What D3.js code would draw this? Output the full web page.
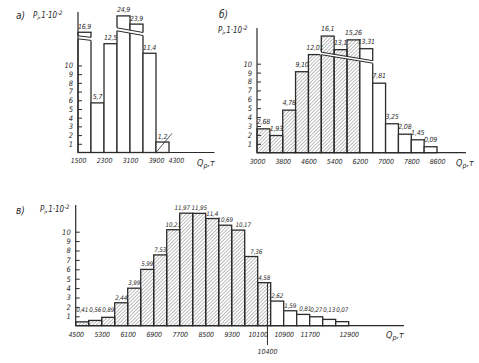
<!DOCTYPE html>
<html>
<head>
<meta charset="utf-8">
<script src="https://cdn.jsdelivr.net/npm/d3@7"></script>
<style>
  body { margin: 0; background: #fff; }
  svg text { font-family: "Liberation Sans Narrow", "DejaVu Sans Condensed", sans-serif; font-style: italic; fill: #2a2a2a; }
</style>
</head>
<body>
<script>
// а) left bin edges, step 400 t
const binsA = [1500, 1900, 2300, 2700, 3100, 3500, 3900];
const labelsA = ["16,9", "5,7", "12,5", "24,9", "23,9", "11,4", "1,2"];
const valuesA = [16.9, 5.7, 12.5, 24.9, 23.9, 11.4, 1.2];
const ticksA = [1500, 2300, 3100, 3900, 4300];

// б)
const binsB = [3000, 3400, 3800, 4200, 4600, 5000, 5400, 5800, 6200, 6600, 7000, 7400, 7800, 8200];
const labelsB = ["2,68", "1,93", "4,78", "9,10", "12,01", "16,1", "13,1", "15,26", "13,31", "7,81", "3,25", "2,08", "1,45", "0,09"];
const valuesB = [2.68, 1.93, 4.78, 9.10, 12.01, 16.1, 13.1, 15.26, 13.31, 7.81, 3.25, 2.08, 1.45, 0.67];
const ticksB = [3000, 3800, 4600, 5400, 6200, 7000, 7800, 8600];

// в)
const binsC = [4500, 4900, 5300, 5700, 6100, 6500, 6900, 7300, 7700, 8100, 8500, 8900, 9300, 9700, 10100, 10500, 10900, 11300, 11700, 12100, 12500];
const labelsC = ["0,41", "0,56", "0,89", "2,44", "3,99", "5,99", "7,53", "10,21", "11,97", "11,95", "11,4", "10,69", "10,17", "7,36", "4,58", "2,62", "1,59", "0,81", "0,27", "0,13", "0,07"];
const valuesC = [0.41, 0.56, 0.89, 2.44, 3.99, 5.99, 7.53, 10.21, 11.97, 11.95, 11.4, 10.69, 10.17, 7.36, 4.58, 2.62, 1.59, 1.2, 0.95, 0.67, 0.43];
const ticksC = [4500, 5300, 6100, 6900, 7700, 8500, 9300, 10100, 10900, 11700, 12900];
const markC = 10400;

const yTicks = [1, 2, 3, 4, 5, 6, 7, 8, 9, 10];
const step = 400;
const ink = "#2b2b2b";

const svg = d3.select("body").append("svg")
  .attr("width", 479).attr("height", 363);

svg.append("defs").append("pattern")
  .attr("id", "hatch")
  .attr("patternUnits", "userSpaceOnUse")
  .attr("width", 2.5).attr("height", 2.5)
  .attr("patternTransform", "rotate(45)")
  .append("line")
  .attr("x1", 0).attr("y1", 0).attr("x2", 0).attr("y2", 2.5)
  .attr("stroke", "#4a4a4a").attr("stroke-width", 0.7);

function drawPanel(p) {
  const g = svg.append("g");
  const x = d3.scaleLinear().domain(p.xDomain).range(p.xRange);
  const y = d3.scaleLinear().domain(p.yDomain).range(p.yRange);
  const base = y(0);
  const shift = p.labelShift || {};

  const bars = p.bins.map((b, i) => ({ b, i, v: p.values[i], label: p.labels[i] }));

  g.append("g").selectAll("rect")
    .data(bars)
    .join("rect")
    .attr("x", d => x(d.b))
    .attr("y", d => y(d.v))
    .attr("width", d => x(d.b + step) - x(d.b))
    .attr("height", d => base - y(d.v))
    .attr("fill", d => d.b < p.hatchBelow ? "url(#hatch)" : "#fff")
    .attr("stroke", ink)
    .attr("stroke-width", 1.3);

  // broken-scale marks
  (p.breaks || []).forEach(br => {
    const xa = x(p.bins[br.from]) - 1.5;
    const xb = x(p.bins[br.to] + step) + 1.5;
    const ya = y(br.at);
    const yb = ya + (xb - xa) * br.slope;
    const w = br.width;
    g.append("path")
      .attr("d", `M${xa},${ya}L${xb},${yb}L${xb},${yb + w}L${xa},${ya + w}Z`)
      .attr("fill", "#fff");
    [0, w].forEach(off => {
      g.append("line")
        .attr("x1", xa + 1.5).attr("y1", ya + off + 1.5 * br.slope)
        .attr("x2", xb - 1.5).attr("y2", yb + off - 1.5 * br.slope)
        .attr("stroke", ink).attr("stroke-width", 1);
    });
  });

  g.append("g").selectAll("text")
    .data(bars)
    .join("text")
    .attr("x", d => (x(d.b) + x(d.b + step)) / 2 + (shift[d.i] || 0))
    .attr("y", d => Math.min(y(d.v) - p.labelGap, p.labelFloor ? y(p.labelFloor) : Infinity))
    .attr("text-anchor", "middle")
    .style("font-size", p.labelSize || "7px")
    .style("letter-spacing", "-0.2px")
    .text(d => d.label);

  // axes
  g.append("line")
    .attr("x1", x(p.xDomain[0])).attr("x2", x(p.axisEnd))
    .attr("y1", base).attr("y2", base)
    .attr("stroke", ink).attr("stroke-width", 1.2);
  g.append("line")
    .attr("x1", x(p.xDomain[0])).attr("x2", x(p.xDomain[0]))
    .attr("y1", base).attr("y2", p.yTop)
    .attr("stroke", ink).attr("stroke-width", 1.2);

  const ya = g.append("g")
    .attr("transform", `translate(${x(p.xDomain[0])},0)`)
    .call(d3.axisLeft(y).tickValues(yTicks).tickSize(-4).tickPadding(5).tickFormat(d3.format("d")));
  ya.select(".domain").remove();
  ya.selectAll("line").attr("stroke", ink);
  ya.selectAll("text").style("font-size", "7.5px").attr("fill", ink);

  const xa = g.append("g")
    .attr("transform", `translate(0,${base})`)
    .call(d3.axisBottom(x).tickValues(p.ticks).tickSize(0).tickPadding(6).tickFormat(d3.format("d")));
  xa.select(".domain").remove();
  xa.selectAll("text").style("font-size", "7px").style("letter-spacing", "-0.1px").attr("fill", ink);
  if (p.lastTickStart) {
    xa.selectAll(".tick").filter((d, i, n) => i === n.length - 1)
      .select("text").attr("text-anchor", "start").attr("x", -1);
  }

  const q = g.append("text")
    .attr("x", p.qPos[0]).attr("y", p.qPos[1])
    .style("font-size", "9px");
  q.append("tspan").text("Q");
  q.append("tspan").attr("dy", 2).style("font-size", "7px").text("р");
  q.append("tspan").attr("dy", -2).text(",т");

  const pl = g.append("text")
    .attr("x", p.pPos[0]).attr("y", p.pPos[1])
    .style("font-size", "8px");
  pl.append("tspan").text("P");
  pl.append("tspan").attr("dy", 2).style("font-size", "6px").text("i");
  pl.append("tspan").attr("dy", -2).text(",1·10");
  pl.append("tspan").attr("dy", -3).style("font-size", "6px").text("-2");

  g.append("text")
    .attr("x", p.headPos[0]).attr("y", p.headPos[1])
    .style("font-size", "10px")
    .text(p.head);

  return { g, x, y };
}

const a = drawPanel({
  bins: binsA, values: valuesA, labels: labelsA, ticks: ticksA,
  xDomain: [1500, 4300], xRange: [78, 169], axisEnd: 5700,
  yDomain: [0, 12.5, 17, 24, 25], yRange: [152.5, 43.7, 32, 24, 15], yTop: 12,
  hatchBelow: -Infinity, labelGap: 3.5, lastTickStart: true,
  breaks: [
    { from: 0, to: 0, at: 15.6, slope: 0.12, width: 3 },
    { from: 3, to: 4, at: 20.9, slope: 0.18, width: 3 }
  ],
  qPos: [197, 166], pPos: [33, 18], headPos: [16, 19], head: "а)"
});
// stray stroke on the last bar
a.g.append("line")
  .attr("x1", a.x(3900)).attr("y1", a.y(0))
  .attr("x2", a.x(4300) + 3).attr("y2", a.y(2.2))
  .attr("stroke", ink).attr("stroke-width", 0.8);

drawPanel({
  bins: binsB, values: valuesB, labels: labelsB, ticks: ticksB,
  xDomain: [3000, 8600], xRange: [257, 437], axisEnd: 9500,
  yDomain: [0, 10, 17], yRange: [152.7, 63.7, 32], yTop: 28,
  hatchBelow: 6200, labelGap: 5,
  breaks: [{ from: 5, to: 8, at: 12.6, slope: 0.165, width: 2.5 }],
  qPos: [456, 166], pPos: [218, 33], headPos: [219, 18], head: "б)"
});

const c = drawPanel({
  bins: binsC, values: valuesC, labels: labelsC, ticks: ticksC,
  xDomain: [4500, 12900], xRange: [75.7, 348.7], axisEnd: 14600,
  yDomain: [0, 10], yRange: [325.7, 231.7], yTop: 205,
  hatchBelow: markC, labelGap: 3, labelFloor: 1.5, labelSize: "6.3px",
  labelShift: { 8: -4, 12: 5, 13: 5, 17: 2 },
  qPos: [386, 338], pPos: [40, 212], headPos: [16, 214], head: "в)"
});
c.g.append("line")
  .attr("x1", c.x(markC)).attr("x2", c.x(markC))
  .attr("y1", c.y(4.58)).attr("y2", 345)
  .attr("stroke", ink).attr("stroke-width", 1);
c.g.append("text")
  .attr("x", c.x(markC)).attr("y", 354)
  .attr("text-anchor", "middle")
  .style("font-size", "7px")
  .text(d3.format("d")(markC));
</script>
</body>
</html>
